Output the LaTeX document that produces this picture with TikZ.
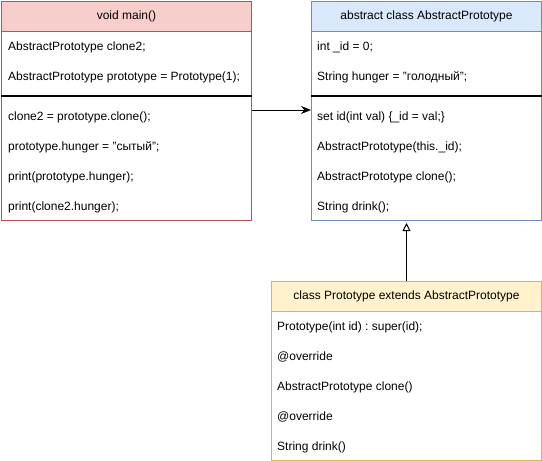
\documentclass[tikz,border=0pt]{standalone}
\usepackage{fontspec}
\setmainfont{Liberation Sans}
\usepackage{tikz}
\usetikzlibrary{positioning}
\usetikzlibrary{calc}
\usetikzlibrary{arrows.meta}
\definecolor{RedFill}{HTML}{F8CECC}
\definecolor{RedLine}{HTML}{B85450}
\definecolor{BlueFill}{HTML}{DAE8FC}
\definecolor{BlueLine}{HTML}{6C8EBF}
\definecolor{GoldFill}{HTML}{FFF2CC}
\definecolor{GoldLine}{HTML}{D6B656}
\frenchspacing

\begin{document}
\begin{tikzpicture}[x=1pt, y=-1pt, >={Stealth[length=10pt, width=8pt]},
    font=\fontsize{12}{14}\selectfont,
    head/.style={draw, line width=1pt, minimum height=30pt, inner sep=0pt,
      text height=9pt, text depth=3pt, anchor=north west},
    body/.style={draw, line width=1pt, fill=white, inner sep=0pt, anchor=north west},
    row/.style={anchor=base west, inner sep=0pt},
    sep/.style={line width=2pt}]
      \useasboundingbox (0,0) rectangle (542,461);

      % void main()
      \node[body, draw=RedLine, minimum width=250pt, minimum height=189pt] at (1,31) (mainbody) {};
      \node[head, fill=RedFill, draw=RedLine, minimum width=250pt] at (1,1) (mainhead) {void main()};
      \node[row] at (8,50) (mainvar1) {AbstractPrototype clone2;};
      \node[row] at (8,80) (mainvar2) {AbstractPrototype prototype = Prototype(1);};
      \draw[sep] ($(mainbody.north west)+(0,65)$) -- ($(mainbody.north east)+(0,65)$);
      \foreach \t [count=\i] in {{clone2 = prototype.clone();}, {prototype.hunger = "сытый";},
                                 {print(prototype.hunger);}, {print(clone2.hunger);}}
      \node[row] at (8, 90+30*\i) (mainop\i) {\t};

      % abstract class
      \node[body, draw=BlueLine, minimum width=230pt, minimum height=189pt] at (311,31) (absbody) {};
      \node[head, fill=BlueFill, draw=BlueLine, minimum width=230pt] at (311,1) (abshead) {abstract class AbstractPrototype};
      \node[row] at (317,50) (absvar1) {int \_id = 0;};
      \node[row] at (317,80) (absvar2) {String hunger = "голодный";};
      \draw[sep] ($(absbody.north west)+(0,65)$) -- ($(absbody.north east)+(0,65)$);
      \foreach \t [count=\i] in {{set id(int val) \{\_id = val;\}}, {AbstractPrototype(this.\_id);},
                                 {AbstractPrototype clone();}, {String drink();}}
      \node[row] at (317, 90+30*\i) (absop\i) {\t};

      % class Prototype
      \node[body, draw=GoldLine, minimum width=270pt, minimum height=149pt] at (271,311) (protobody) {};
      \node[head, fill=GoldFill, draw=GoldLine, minimum width=270pt] at (271,281) (protohead) {class Prototype extends AbstractPrototype};
      \foreach \t [count=\i] in {{Prototype(int id) : super(id);}, {@override},
                                 {AbstractPrototype clone()}, {@override}, {String drink()}}
      \node[row] at (277, 300+30*\i) (protoop\i) {\t};

      % links
      \coordinate (link) at (0,110);
      \draw[->, line width=1pt] (mainbody.east |- link) -- (absbody.west |- link);
      \draw[-{Triangle[open, length=8pt, width=8pt]}, line width=1pt, shorten >=2pt]
        (protohead.north) -- (protohead.north |- absbody.south);
\end{tikzpicture}
\end{document}
